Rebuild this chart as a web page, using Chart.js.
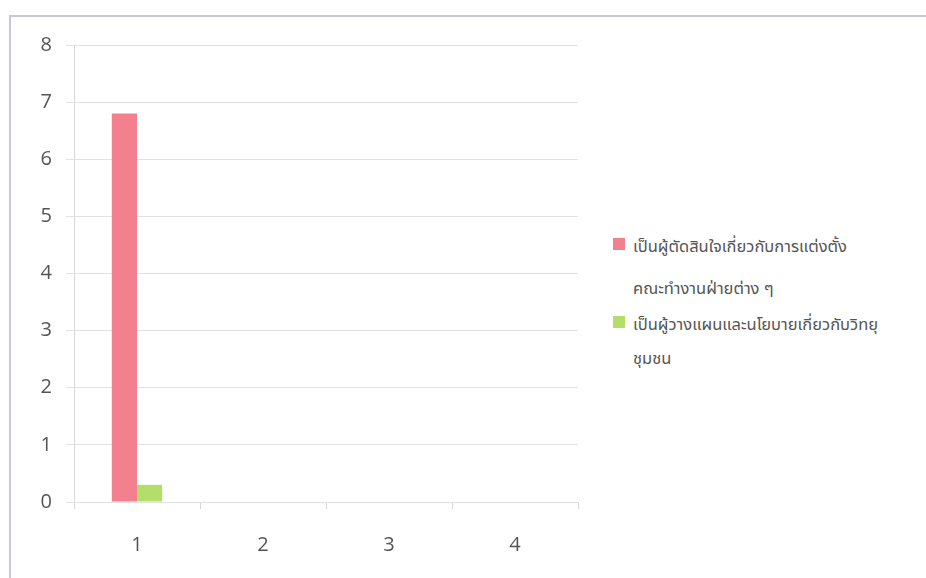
<!DOCTYPE html>
<html>
<head>
<meta charset="utf-8">
<script src="https://cdn.jsdelivr.net/npm/chart.js@4.4.1/dist/chart.umd.min.js"></script>
<style>
  html, body { margin:0; padding:0; background:#fff; width:926px; height:578px; overflow:hidden; }
  #frame { position:absolute; left:9px; top:15px; width:930px; height:580px; border-top:2px solid #c8c8d8; border-left:2px solid #c8c8d8; }
  #wrap { position:absolute; left:0; top:0; width:600px; height:578px; }
  #legend { position:absolute; left:613px; top:226px; width:310px; font-family:"Noto Sans Thai","Noto Sans","DejaVu Sans",sans-serif; font-size:16.5px; color:#555; }
  .item { position:relative; padding-left:20px; line-height:42px; margin-bottom:-6px; }
  .sw { position:absolute; left:0; top:12px; width:12px; height:12px; }
</style>
</head>
<body>
<div id="frame"></div>
<div id="wrap"><canvas id="c"></canvas></div>
<div id="legend"></div>
<script>
const categories = ["1", "2", "3", "4"];
const seriesNames = [
  ["เป็นผู้ตัดสินใจเกี่ยวกับการแต่งตั้ง", "คณะทำงานฝ่ายต่าง ๆ"],
  ["เป็นผู้วางแผนและนโยบายเกี่ยวกับวิทยุ", "ชุมชน"]
];
const seriesA = [6.8, null, null, null];
const seriesB = [0.3, null, null, null];
const yTicks = [0, 1, 2, 3, 4, 5, 6, 7, 8];
const colors = ["#f3808e", "#b4de6a"];

const ctx = document.getElementById('c');
new Chart(ctx, {
  type: 'bar',
  data: {
    labels: categories,
    datasets: [
      { label: seriesNames[0].join(''), data: seriesA, backgroundColor: colors[0], barPercentage: 1, categoryPercentage: 0.4 },
      { label: seriesNames[1].join(''), data: seriesB, backgroundColor: colors[1], barPercentage: 1, categoryPercentage: 0.4 }
    ]
  },
  options: {
    responsive: true,
    maintainAspectRatio: false,
    animation: false,
    layout: { padding: { top: 45, right: 22, left: 0, bottom: 0 } },
    plugins: { legend: { display: false }, tooltip: { enabled: false } },
    scales: {
      y: {
        min: 0, max: 8,
        afterBuildTicks: (s) => { s.ticks = yTicks.map(v => ({ value: v })); },
        afterFit: (s) => { s.width = 74; },
        grid: { color: '#e2e2e2', tickLength: 8, lineWidth: 1 },
        border: { color: '#d8d8d8' },
        ticks: { color: '#555', font: { family: 'Open Sans', size: 20 }, padding: 14 }
      },
      x: {
        afterFit: (s) => { s.height = 76; },
        grid: { display: true, drawOnChartArea: false, offset: true, color: '#d8d8d8', tickLength: 7 },
        border: { color: '#e2e2e2' },
        ticks: { color: '#555', font: { family: 'Open Sans', size: 20 }, padding: 24 }
      }
    }
  }
});

const leg = document.getElementById('legend');
seriesNames.forEach((lines, i) => {
  const d = document.createElement('div');
  d.className = 'item';
  const sw = document.createElement('span');
  sw.className = 'sw';
  sw.style.background = colors[i];
  d.appendChild(sw);
  lines.forEach((t, j) => {
    const l = document.createElement('div');
    l.textContent = t;
    if (j > 0 && i > 0) l.style.marginTop = '-8px';
    d.appendChild(l);
  });
  leg.appendChild(d);
});
</script>
</body>
</html>
